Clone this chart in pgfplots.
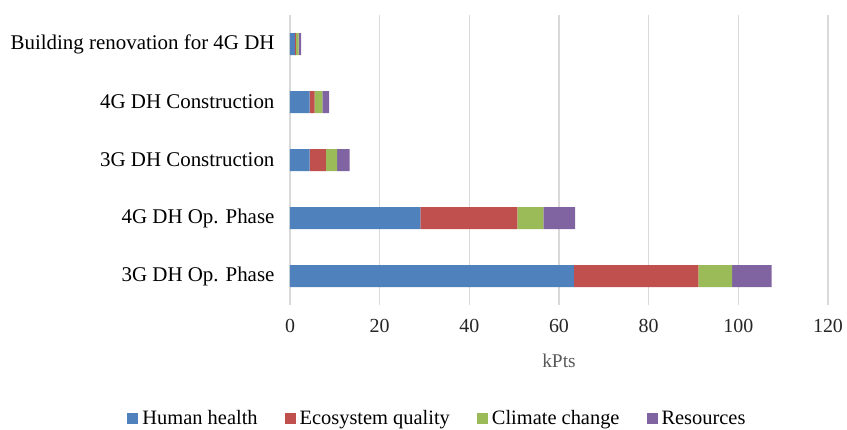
\documentclass[border=0pt]{standalone}
\usepackage{pgfplots}
\pgfplotsset{compat=1.18}
\usepackage{fontspec}
\setmainfont{Liberation Serif}
\definecolor{cHH}{HTML}{4F81BD}
\definecolor{cEQ}{HTML}{C0504D}
\definecolor{cCC}{HTML}{9BBB59}
\definecolor{cRE}{HTML}{8064A2}
\definecolor{cGrid}{HTML}{D9D9D9}
\definecolor{cLab}{HTML}{595959}
\begin{document}
\begin{tikzpicture}
\begin{axis}[
  scale only axis, width=538bp, height=290bp,
  xbar stacked, bar width=22bp,
  xmin=0, xmax=120, ymin=-0.5, ymax=4.5,
  xtick={0,20,...,120},
  ytick={0,1,2,3,4},
  yticklabels={3G DH Op. Phase, 4G DH Op. Phase, 3G DH Construction, 4G DH Construction, Building renovation for 4G DH},
  xmajorgrids, grid style={draw=cGrid, line width=1.2bp},
  axis line style={draw=none},
  major tick length=0pt,
  /pgf/number format/assume math mode=true,
  xticklabel style={font=\fontsize{20}{23}\selectfont, text=black!85, yshift=-11bp},
  yticklabel style={font=\fontsize{21}{24}\selectfont, xshift=-12bp},
  xlabel={kPts},
  xlabel style={font=\fontsize{19.5}{22}\selectfont, text=cLab, yshift=-14bp},
  legend style={at={(axis description cs:0.2723,-0.39)}, anchor=center, draw=none, fill=none,
    font=\fontsize{20.5}{23}\selectfont, legend columns=4,
    nodes={inner sep=0pt},
    /tikz/every odd column/.append style={column sep=4bp},
    /tikz/every even column/.append style={column sep=27bp}},
  legend image code/.code={\fill[#1] (0bp,-5.5bp) rectangle (11bp,5.5bp);},
]
\addplot[fill=cHH, draw=none] coordinates {(63.3,0) (29.1,1) (4.4,2) (4.4,3) (1.1,4)};
\addplot[fill=cEQ, draw=none] coordinates {(27.8,0) (21.6,1) (3.6,2) (1.1,3) (0.2,4)};
\addplot[fill=cCC, draw=none] coordinates {(7.5,0) (5.8,1) (2.5,2) (1.7,3) (0.6,4)};
\addplot[fill=cRE, draw=none] coordinates {(8.8,0) (7.1,1) (2.8,2) (1.5,3) (0.6,4)};
\legend{Human health, Ecosystem quality, Climate change, Resources}
\end{axis}
\pgfresetboundingbox
\path (-290bp,-125bp) rectangle (557bp,305bp);
\end{tikzpicture}
\end{document}
